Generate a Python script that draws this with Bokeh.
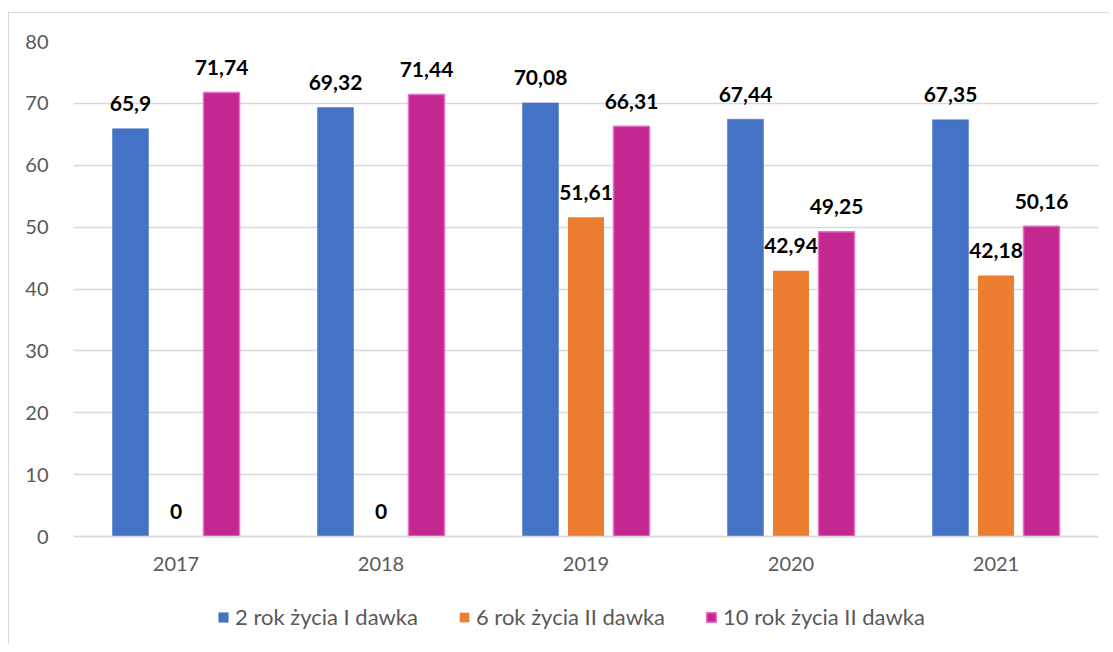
from bokeh.plotting import figure
from bokeh.models import ColumnDataSource, FactorRange, Range1d, Legend, LegendItem, FixedTicker
from bokeh.transform import dodge
from bokeh.core.properties import value
from bokeh.embed import file_html
from bokeh.resources import INLINE

years = ["2017", "2018", "2019", "2020", "2021"]
s_names = ["2 rok życia I dawka", "6 rok życia II dawka", "10 rok życia II dawka"]
blue_vals = [65.9, 69.32, 70.08, 67.44, 67.35]
orange_vals = [0, 0, 51.61, 42.94, 42.18]
pink_vals = [71.74, 71.44, 66.31, 49.25, 50.16]
y_ticks = [0, 10, 20, 30, 40, 50, 60, 70, 80]

def lab(v):
    return f"{v:g}".replace(".", ",")

src = ColumnDataSource(dict(
    x=years,
    b=blue_vals, o=orange_vals, k=pink_vals,
    bl=[lab(v) for v in blue_vals],
    ol=[lab(v) for v in orange_vals],
    kl=[lab(v) for v in pink_vals],
))

FONT = "Lato"
GRAY = "#595959"

# layout: plot area for values 0..80 is 495 px tall; frame extends below 0 to hold axis labels and legend
AREA_H = 495
EXTRA_H = 108
y_lo = -EXTRA_H * 80 / AREA_H

p = figure(frame_width=1025, frame_height=AREA_H + EXTRA_H,
           x_range=FactorRange(*years, range_padding=0),
           y_range=Range1d(y_lo, 80), output_backend="svg", toolbar_location=None,
           min_border_left=64, min_border_top=28, min_border_right=11, min_border_bottom=0)
p.margin = (12, 0, 0, 8)
p.styles = {"border-left": "1px solid #d9d9d9", "border-top": "1px solid #d9d9d9"}
p.outline_line_color = None
p.background_fill_color = "white"
p.border_fill_color = "white"

off = 0.222
bw = 0.1756
rb = p.vbar(x=dodge("x", -off, range=p.x_range), top="b", width=bw, source=src,
            fill_color="#4472C4", line_color="#4472C4", line_width=0.5)
ro = p.vbar(x=dodge("x", 0, range=p.x_range), top="o", width=bw, source=src,
            fill_color="#ED7D31", line_color=None)
rk = p.vbar(x=dodge("x", off, range=p.x_range), top="k", width=bw, source=src,
            fill_color="#C4278F", line_color="#E36FCB", line_width=1.5)

for xo, col, lc in [(-off, "b", "bl"), (0, "o", "ol"), (off, "k", "kl")]:
    p.text(x=dodge("x", xo, range=p.x_range), y=col, text=lc, source=src,
           text_align="center", text_baseline="alphabetic", y_offset=-25,
           text_font=value(FONT), text_font_style="bold", text_font_size="21px",
           text_color="black")

p.yaxis.ticker = FixedTicker(ticks=y_ticks)
p.yaxis.axis_line_color = None
p.yaxis.major_tick_line_color = None
p.yaxis.minor_tick_line_color = None
p.yaxis.major_tick_out = 0
p.yaxis.major_label_standoff = 25
p.yaxis.major_label_text_font = FONT
p.yaxis.major_label_text_font_size = "20px"
p.yaxis.major_label_text_color = GRAY

p.xaxis.fixed_location = 0
p.xaxis.axis_line_color = "#d9d9d9"
p.xaxis.axis_line_width = 1.5
p.xaxis.major_tick_line_color = None
p.xaxis.minor_tick_line_color = None
p.xaxis.major_tick_out = 0
p.xaxis.major_label_standoff = 20
p.xaxis.major_label_text_font = FONT
p.xaxis.major_label_text_font_size = "20px"
p.xaxis.major_label_text_color = GRAY

p.xgrid.grid_line_color = None
p.ygrid.grid_line_color = "#d9d9d9"
p.ygrid.grid_line_width = 1.5

legend = Legend(items=[LegendItem(label=s_names[0], renderers=[rb]),
                       LegendItem(label=s_names[1], renderers=[ro]),
                       LegendItem(label=s_names[2], renderers=[rk])],
                orientation="horizontal", location=(144, 14),
                glyph_width=12, glyph_height=12, label_standoff=6, spacing=40,
                label_text_font=FONT, label_text_font_size="22px", label_text_color=GRAY,
                border_line_color=None, background_fill_alpha=0, margin=0, padding=0)
p.add_layout(legend, "center")

open("out.html", "w").write(file_html(p, INLINE))
